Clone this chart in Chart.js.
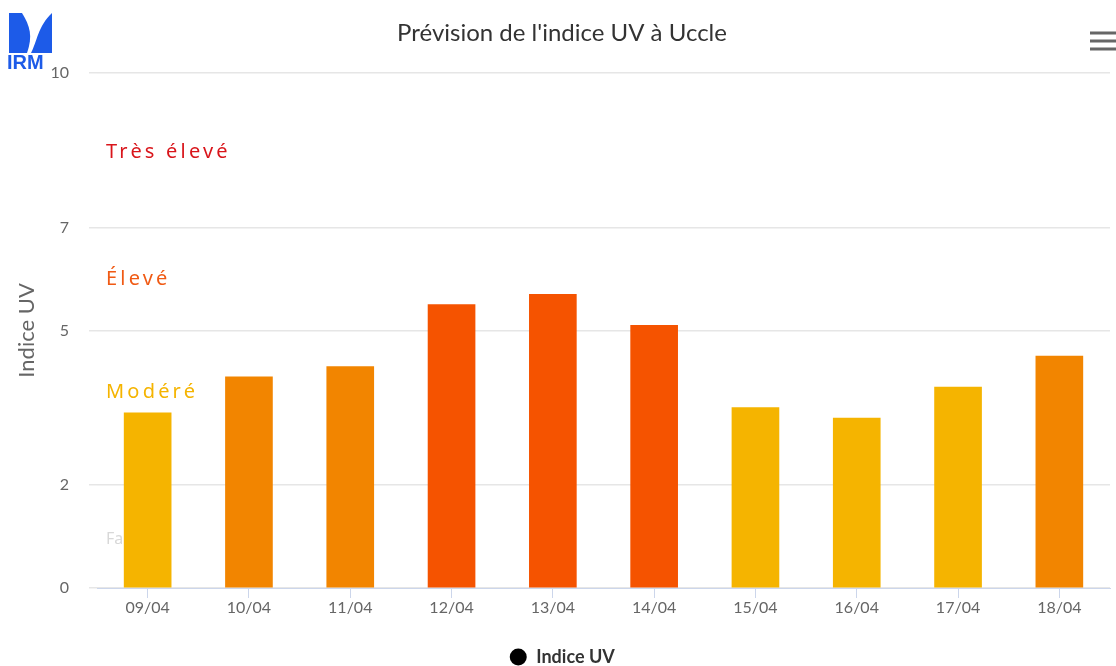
<!DOCTYPE html>
<html lang="fr">
<head>
<meta charset="UTF-8">
<title>Prévision de l'indice UV à Uccle</title>
<script src="https://cdn.jsdelivr.net/npm/chart.js"></script>
<style>
  html, body { margin: 0; padding: 0; background: #fff; }
  #wrap { width: 1116px; height: 666px; position: relative; }
</style>
</head>
<body>
<div id="wrap"><canvas id="uvChart"></canvas></div>
<script>
const categories = ['09/04', '10/04', '11/04', '12/04', '13/04', '14/04', '15/04', '16/04', '17/04', '18/04'];
const uvValues = [3.4, 4.1, 4.3, 5.5, 5.7, 5.1, 3.5, 3.3, 3.9, 4.5];
const barColors = ['#f5b400', '#f28500', '#f28500', '#f55300', '#f55300', '#f55300', '#f5b400', '#f5b400', '#f5b400', '#f28500'];
const yTicks = [0, 2, 5, 7, 10];
const bandLabels = ['Faible', 'Modéré', 'Élevé', 'Très élevé'];
const bandLabelValues = [0.95, 3.8, 6, 8.45];
const bandColors = ['#d8d8d8', '#f5b400', '#f05a14', '#d9151b'];

// band names sit behind the bars, like the original
const bandPlugin = {
    id: 'bands',
    beforeDatasetsDraw(chart) {
        const ctx = chart.ctx;
        const y = chart.scales.y;
        ctx.save();
        ctx.textAlign = 'left';
        ctx.textBaseline = 'middle';
        bandLabels.forEach((txt, i) => {
            if (i === 0) {
                ctx.font = '16px "Noto Sans"';
                ctx.letterSpacing = '0px';
            } else {
                ctx.font = '20px "Noto Sans"';
                ctx.letterSpacing = '3.2px';
            }
            ctx.fillStyle = bandColors[i];
            ctx.fillText(txt, 106, y.getPixelForValue(bandLabelValues[i]));
        });
        ctx.restore();
    }
};

// logo and menu button
const decoPlugin = {
    id: 'deco',
    afterDraw(chart) {
        const ctx = chart.ctx;
        ctx.save();
        ctx.fillStyle = '#1d5be8';
        ctx.beginPath();
        ctx.moveTo(9, 13);
        ctx.lineTo(22, 13);
        ctx.bezierCurveTo(30, 26, 33, 36, 27, 53);
        ctx.lineTo(9, 53);
        ctx.closePath();
        ctx.fill();
        ctx.beginPath();
        ctx.moveTo(52, 13);
        ctx.lineTo(52, 53);
        ctx.lineTo(31, 53);
        ctx.bezierCurveTo(37, 42, 38, 26, 52, 13);
        ctx.closePath();
        ctx.fill();
        ctx.font = 'bold 20px "Liberation Sans"';
        ctx.textBaseline = 'alphabetic';
        ctx.fillText('IRM', 7, 69);

        ctx.fillStyle = '#666';
        [33, 41, 49].forEach(yy => ctx.fillRect(1090, yy - 1.5, 26, 3));
        ctx.restore();
    }
};

new Chart(document.getElementById('uvChart'), {
    type: 'bar',
    data: {
        labels: categories,
        datasets: [{
            label: 'Indice UV',
            data: uvValues,
            backgroundColor: barColors,
            borderWidth: 0,
            barThickness: 47
        }]
    },
    options: {
        responsive: true,
        maintainAspectRatio: false,
        animation: false,
        layout: { padding: { left: 14, right: 6, top: 0, bottom: -10 } },
        plugins: {
            title: {
                display: true,
                text: "Prévision de l'indice UV à Uccle",
                color: '#333',
                font: { family: 'Lato', size: 24, weight: 'normal' },
                padding: { top: 19, bottom: 25 }
            },
            legend: {
                position: 'bottom',
                labels: {
                    color: '#333',
                    font: { family: 'Lato', size: 18, weight: 'bold' },
                    usePointStyle: true,
                    boxHeight: 12,
                    padding: 1,
                    generateLabels: () => [{
                        text: 'Indice UV',
                        fillStyle: '#000',
                        strokeStyle: '#000',
                        lineWidth: 0,
                        pointStyle: 'circle',
                        fontColor: '#333'
                    }]
                }
            },
            tooltip: { enabled: false }
        },
        scales: {
            x: {
                afterFit: scale => { scale.height = 59; },
                grid: {
                    offset: false,
                    drawOnChartArea: false,
                    drawTicks: true,
                    tickLength: 10,
                    color: '#ccd6eb'
                },
                border: { color: '#ccd6eb', width: 1 },
                ticks: {
                    color: '#666',
                    font: { family: 'Lato', size: 16 },
                    padding: 0
                }
            },
            y: {
                min: 0,
                max: 10,
                afterBuildTicks: axis => { axis.ticks = yTicks.map(v => ({ value: v })); },
                afterFit: scale => { scale.width = 83; },
                grid: { color: '#e6e6e6', lineWidth: 1.5, tickLength: 8 },
                border: { display: false },
                ticks: {
                    color: '#666',
                    font: { family: 'Lato', size: 16 },
                    padding: 20
                },
                title: {
                    display: true,
                    text: 'Indice UV',
                    color: '#666',
                    font: { family: 'Lato', size: 22 },
                    padding: { top: 0, bottom: 0 }
                }
            }
        }
    },
    plugins: [bandPlugin, decoPlugin]
});
</script>
</body>
</html>
